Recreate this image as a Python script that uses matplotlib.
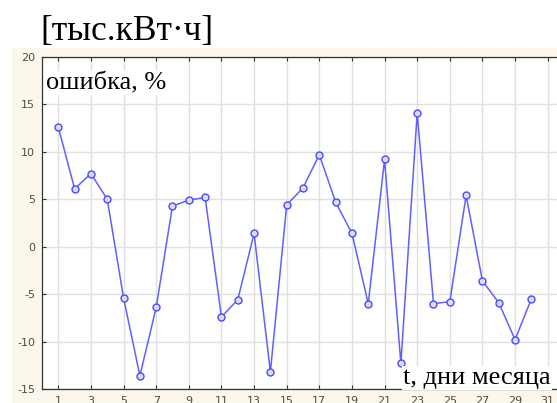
import matplotlib.pyplot as plt
from matplotlib.patches import Rectangle

days = list(range(1, 31))
err = [12.6, 6.1, 7.7, 5.0, -5.4, -13.6, -6.4, 4.3, 4.9, 5.2,
       -7.4, -5.6, 1.4, -13.2, 4.4, 6.2, 9.7, 4.7, 1.4, -6.0,
       9.2, -12.3, 14.1, -6.0, -5.8, 5.4, -3.6, -5.9, -9.8, -5.5]
xticks = list(range(1, 32, 2))
yticks = [-15, -10, -5, 0, 5, 10, 15, 20]

plt.rcParams["axes.unicode_minus"] = False

fig = plt.figure(figsize=(5.57, 4.03), dpi=100)
fig.patch.set_facecolor("white")
# cream panel behind the axes
fig.patches.append(Rectangle((12/557, 0), 1, (403-48)/403, transform=fig.transFigure,
                             facecolor="#fcf7ec", edgecolor="none", zorder=-5))

ax = fig.add_axes([42/557, (403-389)/403, (564-42)/557, (389-57)/403])
ax.set_zorder(2)
ax.set_facecolor("white")
ax.plot(days, err, color="#6060ff", linewidth=1.1, marker="o", markersize=5,
        markerfacecolor="#dcdcff", markeredgecolor="#4a4aff", markeredgewidth=1.0, zorder=3)

ax.set_xlim(0, 32)
ax.set_ylim(-15, 20)
ax.set_xticks(xticks)
ax.set_yticks(yticks)
ax.grid(True, color="#e0e0e0", linewidth=1.0)
ax.tick_params(direction="in", length=3, top=True, right=True, labelsize=8,
               labelcolor="#504a40", color="#333333", pad=5)
for s in ax.spines.values():
    s.set_color("#333333")
    s.set_linewidth(0.9)

fig.text(40/557, 1 - 40/403, "[тыс.кВт·ч]", family="Liberation Serif", fontsize=25.5,
         ha="left", va="baseline", color="black")
# labels placed in figure pixels, drawn above the axes
ax.text(46/557, 1 - 89/403, "ошибка, %", family="Liberation Serif", fontsize=19,
        color="black", transform=fig.transFigure, ha="left", va="baseline", zorder=5,
        bbox=dict(facecolor="white", edgecolor="none", pad=1))
ax.text(403/557, 1 - 384/403, "t, дни месяца", family="Liberation Serif", fontsize=19,
        color="black", transform=fig.transFigure, ha="left", va="baseline", zorder=5,
        bbox=dict(facecolor="white", edgecolor="none", pad=1))

fig.savefig("out.png", dpi=100)
